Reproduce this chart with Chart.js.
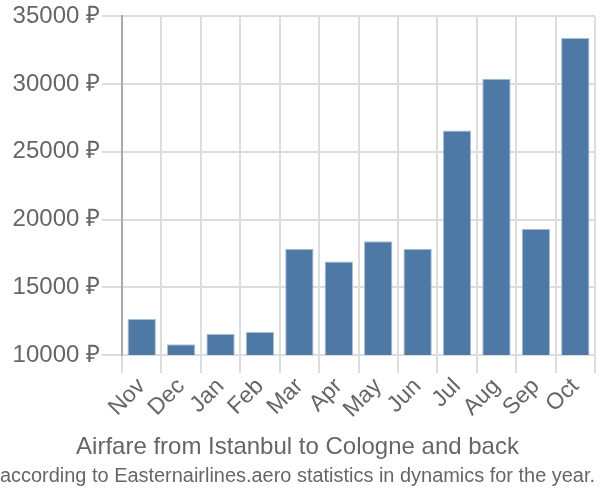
<!DOCTYPE html>
<html><head><meta charset="utf-8">
<script src="https://cdn.jsdelivr.net/npm/chart.js@4"></script>
<style>html,body{margin:0;padding:0;background:#fff}#w{width:600px;height:500px}</style>
</head><body><div id="w"><canvas id="c"></canvas></div>
<script>
const months = ["Nov","Dec","Jan","Feb","Mar","Apr","May","Jun","Jul","Aug","Sep","Oct"];
const prices = [12650,10800,11550,11700,17850,16900,18400,17850,26580,30400,19320,33400];
const yTicks = [10000,15000,20000,25000,30000,35000];
const titleText = "Airfare from Istanbul to Cologne and back";
const subtitleText = "according to Easternairlines.aero statistics in dynamics for the year.";

Chart.defaults.font.family = "'Liberation Sans', Arial, sans-serif";
Chart.defaults.color = "#666";
new Chart(document.getElementById('c'), {
  type: 'bar',
  data: { labels: months, datasets: [{ data: prices, backgroundColor: '#4e79a7', borderColor: '#a9c1dc', borderWidth: {top:1,left:1,right:1,bottom:0} }] },
  options: {
    responsive: true, maintainAspectRatio: false, animation: false,
    layout: { padding: { left: 0, right: 5, top: 5, bottom: 0 } },
    plugins: {
      legend: { display: false },
      tooltip: { enabled: false },
      title: { display: true, text: titleText, position: 'bottom', weight: 1500, font: { size: 24, weight: 'normal' }, color: '#666', padding: { top: 10, bottom: 2 } },
      subtitle: { display: true, text: subtitleText, position: 'bottom', weight: 2000, font: { size: 20 }, color: '#666', padding: { top: 0, bottom: 12 } }
    },
    scales: {
      x: {
        grid: { color: '#ddd', lineWidth: 2, offset: true, tickLength: 18 },
        border: { color: '#ddd', width: 2 },
        ticks: { font: { size: 23 }, autoSkip: false, maxRotation: 45, minRotation: 45, color: '#666', padding: 0 }
      },
      y: {
        min: 10000, max: 35000,
        afterBuildTicks: s => { s.ticks = yTicks.map(v => ({ value: v })); },
        afterFit: s => { s.width = 122; },
        grid: { color: '#ddd', lineWidth: 2, tickLength: 20 },
        border: { color: '#aaa', width: 2 },
        ticks: { font: { size: 24 }, color: '#666', padding: 2, callback: v => v + ' ₽' }
      }
    }
  }
});
</script></body></html>
